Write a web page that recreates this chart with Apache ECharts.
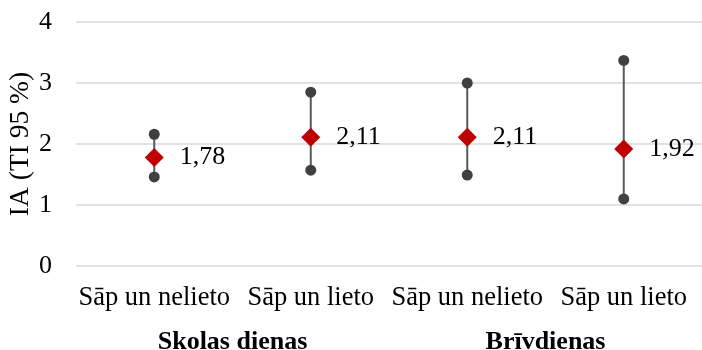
<!DOCTYPE html>
<html>
<head>
<meta charset="utf-8">
<script src="https://cdn.jsdelivr.net/npm/echarts@6/dist/echarts.min.js"></script>
<style>
  html, body { margin: 0; padding: 0; background: #fff; }
  #chart { width: 702px; height: 350px; }
</style>
</head>
<body>
<div id="chart"></div>
<script>
// Categories and grouping
const categories = ['Sāp un nelieto', 'Sāp un lieto', 'Sāp un nelieto', 'Sāp un lieto'];
const groups = ['Skolas dienas', 'Brīvdienas'];
// Mean (IA) and 95 % confidence interval bounds
const means = [1.78, 2.11, 2.11, 1.92];
const lower = [1.46, 1.57, 1.49, 1.10];
const upper = [2.16, 2.85, 3.00, 3.37];
const yTicks = [0, 1, 2, 3, 4];

const FONT = '"Liberation Serif", "Times New Roman", serif';

const chart = echarts.init(document.getElementById('chart'), null, { renderer: 'canvas' });

const intervalData = categories.map((c, i) => [i, lower[i], upper[i]]);
const meanData = categories.map((c, i) => [i, means[i]]);

chart.setOption({
  animation: false,
  grid: { left: 76, right: 0, top: 22, bottom: 84, containLabel: false, outerBoundsMode: 'none' },
  xAxis: [
    {
      type: 'category',
      data: categories,
      boundaryGap: true,
      axisLine: { show: false },
      axisTick: { show: false },
      axisLabel: { color: '#000', fontFamily: FONT, fontSize: 26.5, margin: 19, interval: 0 }
    },
    {
      type: 'category',
      data: groups,
      position: 'bottom',
      boundaryGap: true,
      axisLine: { show: false },
      axisTick: { show: false },
      axisLabel: { color: '#000', fontFamily: FONT, fontSize: 26, fontWeight: 'bold', margin: 63, interval: 0 }
    }
  ],
  yAxis: {
    type: 'value',
    min: yTicks[0],
    max: yTicks[yTicks.length - 1],
    interval: 1,
    name: 'IA (TI 95 %)',
    nameLocation: 'middle',
    nameGap: 41,
    nameMoveOverlap: false,
    nameTextStyle: { color: '#000', fontFamily: FONT, fontSize: 27.5 },
    axisLine: { show: false },
    axisTick: { show: false },
    axisLabel: { color: '#000', fontFamily: FONT, fontSize: 26, margin: 24 },
    splitLine: { lineStyle: { color: '#d9d9d9', width: 1.5 } }
  },
  series: [
    {
      // confidence interval: vertical line with dots at both ends
      type: 'custom',
      xAxisIndex: 0,
      data: intervalData,
      renderItem: function (params, api) {
        const x = api.value(0);
        const lo = api.coord([x, api.value(1)]);
        const hi = api.coord([x, api.value(2)]);
        return {
          type: 'group',
          children: [
            { type: 'line', shape: { x1: lo[0], y1: lo[1], x2: hi[0], y2: hi[1] },
              style: { stroke: '#595959', lineWidth: 2 } },
            { type: 'circle', shape: { cx: lo[0], cy: lo[1], r: 5.5 }, style: { fill: '#404040' } },
            { type: 'circle', shape: { cx: hi[0], cy: hi[1], r: 5.5 }, style: { fill: '#404040' } }
          ]
        };
      },
      z: 2
    },
    {
      type: 'scatter',
      xAxisIndex: 0,
      data: meanData,
      symbol: 'diamond',
      symbolSize: [19, 19],
      itemStyle: { color: '#c00000', opacity: 1 },
      label: {
        show: true,
        position: 'right',
        distance: 16,
        color: '#000',
        fontFamily: FONT,
        fontSize: 26,
        formatter: p => p.value[1].toFixed(2).replace('.', ',')
      },
      z: 3
    }
  ]
});
</script>
</body>
</html>
